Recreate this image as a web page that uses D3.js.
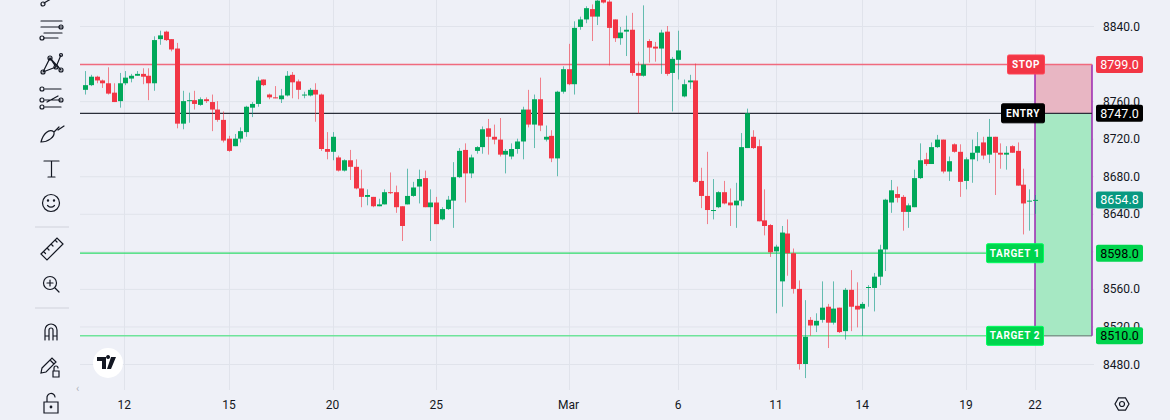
<!DOCTYPE html>
<html><head><meta charset="utf-8">
<script src="https://cdn.jsdelivr.net/npm/d3@7"></script>
<style>body{margin:0;background:#EEF0F7;}svg{display:block;font-family:Roboto,"Noto Sans",sans-serif;}</style>
</head><body><svg id="c" width="1170" height="420"></svg>
<script>
const opens=[8772,8777,8786,8782,8779,8769,8760,8779,8784,8787,8789,8787,8779,8826,8834,8826,8816,8736,8761,8761,8756,8762,8759,8751,8740,8720,8712,8720,8727,8753,8757,8783,8767,8764,8762,8766,8788,8781,8767,8766,8772,8767,8709,8706,8700,8686,8697,8690,8667,8658,8658,8648,8650,8663,8663,8648,8650,8659,8669,8678,8647,8652,8634,8645,8654,8679,8708,8683,8707,8711,8731,8722,8719,8703,8701,8709,8717,8751,8735,8762,8719,8723,8699,8770,8794,8778,8839,8847,8858,8850,8869,8866,8847,8827,8834,8836,8790,8787,8824,8818,8816,8834,8790,8804,8765,8780,8782,8675,8659,8644,8647,8663,8652,8649,8654,8710,8722,8712,8633,8628,8600,8568,8619,8598,8560,8480,8527,8521,8527,8541,8524,8540,8515,8559,8542,8539,8561,8561,8573,8602,8652,8661,8658,8642,8647,8678,8698,8693,8711,8719,8685,8714,8706,8675,8698,8705,8716,8703,8722,8705,8703,8712,8707,8671,8654,8654];
const closes=[8777,8786,8782,8779,8768,8759,8779,8785,8787,8789,8786,8779,8825,8830,8825,8815,8736,8760,8761,8757,8762,8760,8751,8740,8718,8707,8720,8728,8754,8757,8782,8777,8764,8763,8766,8787,8780,8772,8767,8772,8767,8709,8706,8722,8686,8697,8690,8667,8658,8660,8648,8650,8663,8662,8647,8627,8659,8668,8677,8647,8652,8629,8645,8655,8679,8707,8683,8700,8711,8730,8722,8719,8703,8707,8709,8717,8751,8735,8762,8734,8722,8699,8770,8794,8778,8838,8847,8859,8850,8867,8865,8838,8827,8833,8836,8790,8787,8799,8817,8816,8833,8789,8805,8814,8778,8782,8674,8659,8644,8644,8663,8651,8649,8654,8711,8747,8710,8632,8627,8599,8605,8620,8598,8560,8480,8509,8521,8526,8540,8524,8539,8514,8559,8541,8538,8544,8562,8573,8602,8655,8665,8657,8642,8649,8678,8697,8693,8711,8719,8685,8696,8706,8674,8698,8705,8712,8702,8722,8705,8703,8705,8705,8670,8651,8654,8654.8];
const highs=[8792,8788,8787,8783,8796,8779,8790,8792,8789,8792,8795,8795,8829,8835,8835,8826,8822,8771,8769,8771,8764,8764,8767,8760,8749,8723,8725,8732,8755,8759,8786,8783,8768,8776,8773,8792,8791,8783,8770,8774,8779,8768,8727,8727,8702,8698,8708,8698,8687,8666,8658,8656,8666,8684,8670,8648,8688,8674,8687,8686,8666,8658,8647,8659,8695,8710,8715,8703,8712,8733,8741,8735,8742,8709,8715,8720,8754,8772,8767,8785,8734,8729,8771,8797,8821,8845,8850,8861,8863,8872,8873,8870,8847,8839,8851,8854,8802,8862,8826,8823,8836,8840,8807,8835,8783,8788,8800,8689,8706,8677,8664,8675,8667,8673,8726,8752,8729,8719,8666,8629,8607,8627,8634,8603,8569,8548,8530,8534,8568,8544,8568,8540,8561,8580,8567,8546,8564,8577,8607,8656,8676,8669,8660,8651,8687,8715,8705,8716,8724,8719,8701,8715,8714,8700,8719,8727,8722,8741,8722,8715,8712,8713,8716,8688,8666,8660];
const lows=[8767,8776,8779,8774,8767,8759,8753,8777,8780,8787,8778,8761,8771,8820,8824,8813,8731,8730,8737,8751,8755,8758,8728,8738,8716,8706,8712,8716,8722,8743,8754,8776,8762,8763,8758,8765,8763,8762,8763,8765,8738,8707,8698,8697,8685,8685,8676,8666,8647,8649,8647,8648,8650,8661,8641,8611,8650,8658,8651,8647,8611,8629,8633,8644,8625,8678,8652,8678,8704,8704,8703,8714,8701,8683,8698,8704,8698,8732,8710,8728,8717,8695,8680,8768,8777,8767,8836,8843,8824,8841,8864,8798,8823,8820,8808,8787,8747,8786,8801,8802,8789,8787,8749,8783,8764,8773,8673,8646,8629,8634,8646,8650,8627,8625,8648,8710,8709,8632,8617,8594,8534,8541,8574,8555,8474,8465,8510,8514,8524,8497,8522,8513,8506,8515,8519,8510,8541,8536,8564,8579,8641,8652,8622,8625,8647,8677,8691,8693,8710,8683,8675,8705,8658,8666,8673,8696,8698,8694,8660,8688,8687,8705,8670,8618,8622,8640];
const dayTickIdx=[6.8,25,43,61,84,103,120,135,153,165];
const dayTickLabels=["12","15","20","25","Mar","6","11","14","19","22"];
const priceTicks=[8480,8520,8560,8600,8640,8680,8720,8760,8800,8840];
const stopPrice=8799, entryPrice=8747, target1=8598, target2=8510, lastPrice=8654.8;

const svg=d3.select("#c");
const L=80,R=1094,T=0,B=390;
const x=d3.scaleLinear().domain([0,165]).range([85,1035]);
const y=d3.scaleLinear().domain([8480,8840]).range([364,26]);
const up="#089981", dn="#F23645";

svg.append("defs").append("clipPath").attr("id","pc").append("rect").attr("x",L).attr("y",T).attr("width",R-L).attr("height",B-T);
const g=svg.append("g").attr("clip-path","url(#pc)");
g.selectAll(".hg").data(priceTicks.filter(p=>p!==8800)).join("line").attr("x1",L).attr("x2",R)
 .attr("y1",d=>y(d)+.5).attr("y2",d=>y(d)+.5).attr("stroke","#E0E3EB");
g.selectAll(".vg").data(dayTickIdx).join("line").attr("y1",T).attr("y2",B)
 .attr("x1",d=>Math.round(x(d))+.5).attr("x2",d=>Math.round(x(d))+.5).attr("stroke","#E0E3EB");
const bx0=1035,bx1=1092;
g.append("rect").attr("x",bx0).attr("y",y(stopPrice)).attr("width",bx1-bx0).attr("height",y(entryPrice)-y(stopPrice)).attr("fill","#E8B6C3");
g.append("rect").attr("x",bx0).attr("y",y(entryPrice)).attr("width",bx1-bx0).attr("height",y(target2)-y(entryPrice)).attr("fill","#A6E8C3");
g.append("line").attr("x1",bx0).attr("x2",bx1).attr("y1",y(target2)).attr("y2",y(target2)).attr("stroke","#7E9A8E").attr("stroke-width",1.5);
[bx0,bx1].forEach(v=>g.append("line").attr("x1",v).attr("x2",v).attr("y1",y(stopPrice)).attr("y2",y(target2)).attr("stroke","#9C27B0").attr("stroke-width",1.5));
g.append("line").attr("x1",L).attr("x2",bx1).attr("y1",y(stopPrice)).attr("y2",y(stopPrice)).attr("stroke","#F06A7E").attr("stroke-width",1.5);
g.append("line").attr("x1",L).attr("x2",bx1).attr("y1",y(entryPrice)).attr("y2",y(entryPrice)).attr("stroke","#2A2E39").attr("stroke-width",1.3);
g.append("line").attr("x1",L).attr("x2",bx0).attr("y1",y(target1)).attr("y2",y(target1)).attr("stroke","#2EDC6A").attr("stroke-width",1.3);
g.append("line").attr("x1",L).attr("x2",bx0).attr("y1",y(target2)).attr("y2",y(target2)).attr("stroke","#6EE49A").attr("stroke-width",1.5);
const data=opens.map((o,i)=>({i,o,c:closes[i],h:highs[i],l:lows[i]}));
const cg=g.selectAll(".cd").data(data).join("g");
cg.append("line").attr("x1",d=>Math.round(x(d.i))+.5).attr("x2",d=>Math.round(x(d.i))+.5)
 .attr("y1",d=>y(d.h)).attr("y2",d=>y(d.l)).attr("stroke",d=>d.c>=d.o?up:dn).attr("stroke-opacity",.6);
cg.append("rect").attr("x",d=>Math.round(x(d.i))-2).attr("width",5)
 .attr("y",d=>y(Math.max(d.o,d.c))).attr("height",d=>Math.max(1,Math.abs(y(d.o)-y(d.c))))
 .attr("fill",d=>d.c>=d.o?"#00A85A":dn);
function tag(txt,cx,cy,w,fill,col){
 svg.append("rect").attr("x",cx-w/2).attr("y",cy-9.5).attr("width",w).attr("height",19).attr("rx",1.5).attr("fill",fill).attr("stroke",d3.color(fill).brighter(.6)).attr("stroke-width",1);
 svg.append("text").attr("x",cx).attr("y",cy+3.5).attr("text-anchor","middle").attr("font-size",10).attr("font-weight",700).attr("fill",col).attr("letter-spacing",.6).text(txt);
}
tag("STOP",1026,y(stopPrice),37,"#F23645","#fff");
tag("ENTRY",1023,y(entryPrice),43,"#000","#fff");
tag("TARGET 1",1015,y(target1),57,"#00D44D","#fff");
tag("TARGET 2",1015,y(target2),57,"#00D44D","#fff");
svg.selectAll(".pt").data(priceTicks.filter(p=>p!==8800&&p!==8600)).join("text").attr("x",1103).attr("y",d=>y(d)+4.5)
 .attr("font-size",12).attr("fill","#131722").text(d=>d3.format(".1f")(d));
function plabel(v,fill,col){
 svg.append("rect").attr("x",1096).attr("y",y(v)-8.5).attr("width",47).attr("height",17).attr("rx",2).attr("fill",fill);
 svg.append("text").attr("x",1119.5).attr("y",y(v)+4.5).attr("text-anchor","middle").attr("font-size",12.5).attr("fill",col).text(d3.format(".1f")(v));
}
plabel(stopPrice,"#F23645","#fff");
plabel(entryPrice,"#000","#fff");
plabel(lastPrice,"#089981","#fff");
plabel(target1,"#00D44D","#000");
plabel(target2,"#00D44D","#000");
svg.selectAll(".tt").data(dayTickIdx).join("text").attr("x",d=>x(d)).attr("y",409).attr("text-anchor","middle")
 .attr("font-size",12).attr("fill","#131722").text((d,i)=>dayTickLabels[i]);
const gear=svg.append("g").attr("transform","translate(1122,404)");
gear.append("path").attr("d",d3.range(6).map(k=>{const a=k*Math.PI/3;return (k?"L":"M")+(7*Math.cos(a)).toFixed(2)+","+(7*Math.sin(a)).toFixed(2);}).join("")+"Z").attr("fill","none").attr("stroke","#131722").attr("stroke-width",1.2);
gear.append("circle").attr("r",2.5).attr("fill","none").attr("stroke","#131722").attr("stroke-width",1.2);
const tb=svg.append("g").attr("fill","none").attr("stroke","#131722").attr("stroke-width",1.2).attr("stroke-linecap","round");
const ic=(d)=>tb.append("path").attr("d",d);
const cir=(cx,cy,r)=>tb.append("circle").attr("cx",cx).attr("cy",cy).attr("r",r);
ic("M44,3 L56,-4"); cir(43,4,2);
ic("M41,21H62M41,27H62M44,33H62M44,38H58"); cir(61,27,2); cir(42,38,2);
ic("M43,72L50,58L56,67L61,55M43,72L56,67M50,58L61,70"); cir(43,72,2);cir(50,58,2);cir(56,67,2);cir(61,70,2);cir(61,55,1.5);
ic("M45,89H61M45,100H61M45,107H61M47,102L58,96"); cir(42,89,2);cir(42,100,2);cir(42,107,2);cir(61,100,2);
ic("M41,142C43,134 49,128 54,132C55,137 48,142 41,142ZM54,132L59,127M58,130L64,126");
ic("M44,161H59M51.5,161V177M48,177H55");
cir(51,203,8.5); ic("M47.5,205.5Q51,209 54.5,205.5"); tb.append("circle").attr("cx",48).attr("cy",200.5).attr("r",.6).attr("fill","#131722");tb.append("circle").attr("cx",54).attr("cy",200.5).attr("r",.6).attr("fill","#131722");
svg.append("line").attr("x1",35).attr("x2",69).attr("y1",227).attr("y2",227).attr("stroke","#DADDE5").attr("stroke-width",1.5);
ic("M41,254L57,238L63,244L47,260ZM47,248L49,250M51,244L53,246M55,240L57,242M44,252L45.5,253.5");
cir(50,283,6.5); ic("M50,280V286M47,283H53M55,288L59,292");
svg.append("line").attr("x1",35).attr("x2",69).attr("y1",308).attr("y2",308).attr("stroke","#DADDE5").attr("stroke-width",1.5);
ic("M45,340V330A6,6 0 0 1 57,330V340M45,336H49M53,336H57M49,340V330A2,2 0 0 1 53,330V340");
ic("M42,368L52,358L56,362L46,372L41,373ZM50,360L54,364"); ic("M53,377H59V371H53ZM54,371V368A2,2 0 0 1 58,368");
ic("M44,413H58V402H44ZM47,402V398A4,4 0 0 1 55,397"); tb.append("circle").attr("cx",51).attr("cy",407).attr("r",.8).attr("fill","#131722");
svg.append("text").attr("x",76).attr("y",392).attr("font-size",11).attr("fill","#B0B3BC").text("‹");
svg.append("circle").attr("cx",108).attr("cy",363).attr("r",15).attr("fill","#fff");
svg.append("path").attr("d","M97,357H106V369H102V361H97ZM108,359A2,2 0 1 1 108.1,359ZM111,357H116L111,369H107Z").attr("fill","#131722");
</script></body></html>
